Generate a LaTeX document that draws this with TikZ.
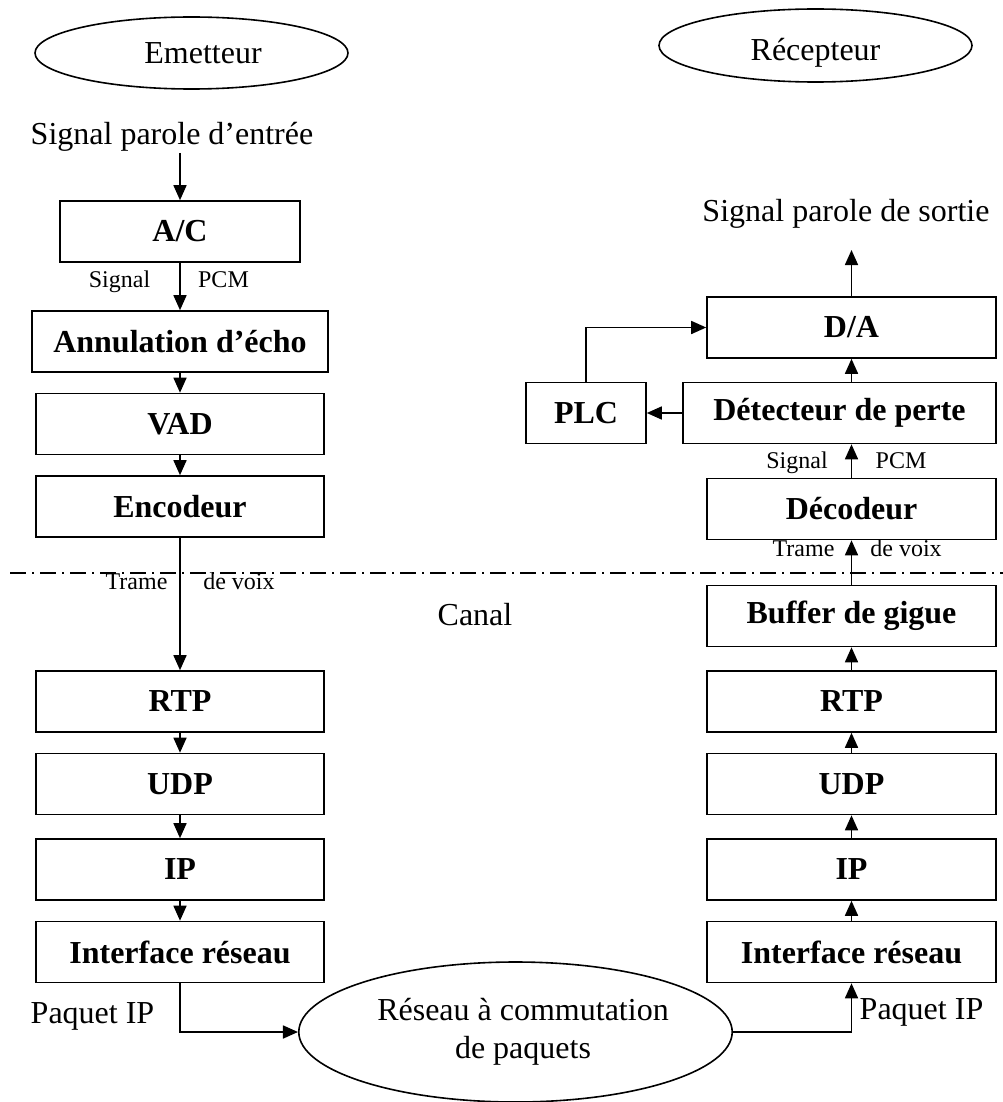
\documentclass[tikz,border=0pt]{standalone}
\usepackage{fontspec}
\setmainfont{Liberation Serif}
\usetikzlibrary{arrows.meta,shapes.geometric}

\begin{document}
\begin{tikzpicture}[x=1pt,y=-1pt,
  line width=1.6pt,
  arr/.style={-{Triangle[length=15pt,width=13pt]}},
  block/.style={draw, rectangle, inner sep=0pt, minimum height=61pt,
    font=\fontsize{32}{38}\selectfont\bfseries},
  oval/.style={draw, ellipse, inner sep=0pt, align=center,
    font=\fontsize{32}{38}\selectfont},
  txt/.style={inner sep=0pt, anchor=base, font=\fontsize{32}{38}\selectfont},
  small/.style={inner sep=0pt, anchor=base, font=\fontsize{24}{28}\selectfont},
  sepline/.style={line width=1.5pt, dash pattern=on 16pt off 6pt on 2pt off 6pt}
]
\useasboundingbox (0,0) rectangle (1003,1102);

% --- headers
\node[oval, minimum width=313pt, minimum height=72pt, text height=22pt, text depth=0pt]
  (emet) at (191.5,53) {\hspace*{23pt}Emetteur};
\node[oval, minimum width=313pt, minimum height=73pt, text height=31pt, text depth=0pt]
  (recep) at (815.5,45.5) {Récepteur};

% --- sender stack
\node[txt] (insig) at (172,145) {Signal parole d’entrée};
\coordinate (inL) at (180,153);
\node[block, minimum width=240pt] (ac)    at (180,231.5) {A/C};
\node[block, minimum width=296pt] (annul) at (180,341.5) {Annulation d’écho};
\node[block, minimum width=288pt] (vad)   at (180,424)   {VAD};
\node[block, minimum width=288pt] (enc)   at (180,506.5) {Encodeur};
\node[block, minimum width=288pt] (rtpL)  at (180,701.5) {RTP};
\node[block, minimum width=288pt] (udpL)  at (180,784)   {UDP};
\node[block, minimum width=288pt] (ipL)   at (180,869.5) {IP};
\node[block, minimum width=288pt] (ifL)   at (180,952)   {Interface réseau};

\node[small] (sigL) at (119.5,287) {Signal};
\node[small] (pcmL) at (223.5,287) {PCM};
\node[small] (trL)  at (136.5,589) {Trame};
\node[small] (dvL)  at (239,589)   {de voix};
\node[txt]   (pqL)  at (92.5,1023) {Paquet IP};

\draw[arr] (inL) -- (inL |- ac.north);
\draw[arr] (ac.south) -- (annul.north);
\draw[arr] (annul.south) -- (vad.north);
\draw[arr] (vad.south) -- (enc.north);
\draw[arr] (enc.south) -- (rtpL.north);
\draw[arr] (rtpL.south) -- (udpL.north);
\draw[arr] (udpL.south) -- (ipL.north);
\draw[arr] (ipL.south) -- (ifL.north);

% --- channel
\coordinate (sepA) at (10,573);
\coordinate (sepB) at (1003,573);
\draw[sepline] (sepA) -- (sepB);
\node[txt] (canal) at (475,625) {Canal};

\node[oval, minimum width=433pt, minimum height=140pt] (net) at (515.5,1032)
  {\hspace*{15pt}Réseau à commutation\\\hspace*{15pt}de paquets};

\draw[arr] (ifL.south) |- (net.west);

% --- receiver stack
\node[block, minimum width=289pt] (da)   at (851.5,327.5) {D/A};
\node[block, minimum width=313pt] (det)  at (839.5,413)   {Détecteur de perte};
\node[block, minimum width=120pt] (plc)  at (586,413)     {PLC};
\node[block, minimum width=289pt] (dec)  at (851.5,509)   {Décodeur};
\node[block, minimum width=289pt] (buf)  at (851.5,616)   {Buffer de gigue};
\node[block, minimum width=289pt] (rtpR) at (851.5,701.5) {RTP};
\node[block, minimum width=289pt] (udpR) at (851.5,784)   {UDP};
\node[block, minimum width=289pt] (ipR)  at (851.5,869.5) {IP};
\node[block, minimum width=289pt] (ifR)  at (851.5,952)   {Interface réseau};

\node[txt] (outsig) at (846,222) {Signal parole de sortie};
\coordinate (outR) at (851.5,250);

\node[small] (sigR) at (797,468)   {Signal};
\node[small] (pcmR) at (901,468)   {PCM};
\node[small] (trR)  at (803.5,556) {Trame};
\node[small] (dvR)  at (906,556)   {de voix};
\node[txt]   (pqR)  at (921.5,1019) {Paquet IP};

\draw[arr] (net.east) -| (ifR.south);
\draw[arr] (ifR.north) -- (ipR.south);
\draw[arr] (ipR.north) -- (udpR.south);
\draw[arr] (udpR.north) -- (rtpR.south);
\draw[arr] (rtpR.north) -- (buf.south);
\draw[arr] (buf.north) -- (dec.south);
\draw[arr] (dec.north) -- (dec.north |- det.south);
\draw[arr] (da.south |- det.north) -- (da.south);
\draw[arr] (det.west) -- (plc.east);
\draw[arr] (plc.north) |- (da.west);
\draw[arr] (da.north) -- (outR);
\end{tikzpicture}
\end{document}
